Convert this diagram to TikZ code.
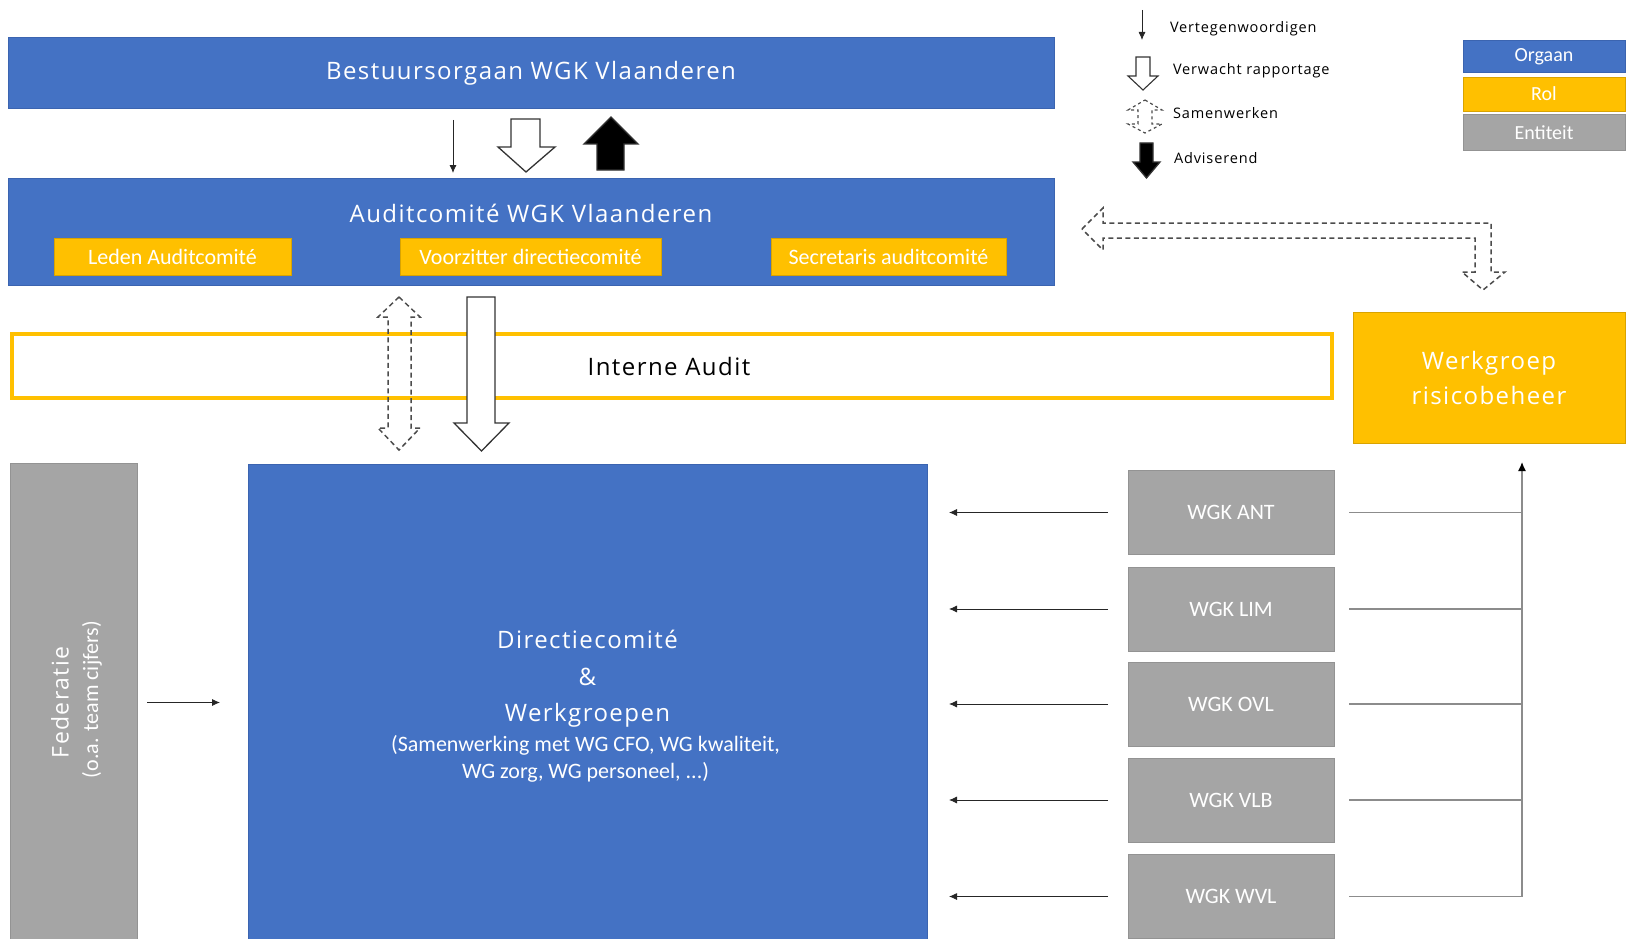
\documentclass[tikz,border=0pt]{standalone}
\usepackage{fontspec}
\setmainfont{Carlito}
\newfontfamily\kopfont[LetterSpace=6]{Open Sans}
\newfontfamily\legfont[LetterSpace=6]{Open Sans}
\usetikzlibrary{arrows.meta,calc}
\definecolor{orgaan}{HTML}{4472C4}
\definecolor{orgaanrand}{HTML}{3B64B0}
\definecolor{rol}{HTML}{FFC000}
\definecolor{entiteit}{HTML}{A5A5A5}
\definecolor{entrand}{HTML}{939393}

\begin{document}
\begin{tikzpicture}
  [x=1pt,y=-1pt,
   every node/.style={inner sep=0pt,outer sep=0pt,text=white},
   orgaanbox/.style={rectangle,fill=orgaan,draw=orgaanrand,line width=1pt},
   rolbox/.style={rectangle,fill=rol,draw=rol!85!black,line width=.6pt},
   entbox/.style={rectangle,fill=entiteit,draw=entrand,line width=1pt},
   kop/.style={font=\kopfont\fontsize{24}{28}\selectfont},
   klein/.style={font=\fontsize{22}{26}\selectfont},
   legtekst/.style={font=\legfont\fontsize{14.5}{17}\selectfont,text=black,anchor=west},
   vertegenw/.style={-{Latex[length=8pt,width=7pt]},line width=.8pt,draw=black!85},
   lijn/.style={draw=black!45,line width=1.3pt},
   blok/.style={draw=black!80,line width=1.3pt,line join=miter},
   samen/.style={draw=black!70,line width=1.5pt,dash pattern=on 5pt off 3.5pt}]
  \useasboundingbox (0,0) rectangle (1627,939);

  % organen
  \node[orgaanbox,minimum width=1046pt,minimum height=71pt,kop] (bestuur) at (531,73.5) {Bestuursorgaan WGK Vlaanderen};
  \node[orgaanbox,minimum width=1046pt,minimum height=107pt] (audit) at (531,231.5) {};
  \node[kop] (audittitel) at ([yshift=18.5pt]audit.center) {Auditcomité WGK Vlaanderen};
  \node[rolbox,minimum width=237pt,minimum height=37pt,klein] (leden) at (172.5,256.5) {Leden Auditcomité};
  \node[rolbox,minimum width=261pt,minimum height=37pt,klein] (voorzitter) at (530.5,256.5) {Voorzitter directiecomité};
  \node[rolbox,minimum width=235pt,minimum height=37pt,klein] (secretaris) at (888.5,256.5) {Secretaris auditcomité};

  \node[rectangle,draw=rol,line width=4pt,fill=white,minimum width=1320pt,minimum height=64pt] (intern) at (672,366) {};
  \node[kop,text=black] (interntekst) at (669,366) {Interne Audit};
  \node[rolbox,minimum width=272pt,minimum height=131pt,kop,align=center] (risico) at (1489,377.5)
    {Werkgroep\\[7pt]risicobeheer};

  \node[entbox,minimum width=127pt,minimum height=479pt] (fed) at (73.5,702.5) {};
  \node[kop,rotate=90,font=\kopfont\fontsize{23}{26}\selectfont] (fedtitel) at ([xshift=-13.5pt]fed.center) {Federatie};
  \node[klein,rotate=90,font=\fontsize{22}{26}\selectfont] (fedsub) at ([xshift=18.5pt,yshift=3pt]fed.center) {(o.a. team cijfers)};

  \node[orgaanbox,minimum width=679pt,minimum height=478pt] (dir) at (587.5,703) {};
  \node[kop,align=center,font=\kopfont\fontsize{24}{36.5}\selectfont] (dirtitel) at ([yshift=24pt]dir.center)
    {Directiecomité\\\&\\Werkgroepen};
  \node[klein,align=center,font=\fontsize{22}{27}\selectfont] (dirsub) at ([xshift=-2pt,yshift=-56pt]dir.center)
    {(Samenwerking met WG CFO, WG kwaliteit,\\WG zorg, WG personeel, ...)};

  \foreach \naam/\tekst/\y in {ant/WGK ANT/512.5,lim/WGK LIM/609,ovl/WGK OVL/704,vlb/WGK VLB/800,wvl/WGK WVL/896.5}
    \node[entbox,minimum width=206pt,minimum height=84pt,klein] (\naam) at (1231,\y) {\tekst};

  % verbindingen
  \draw[vertegenw,shorten <=11pt,shorten >=5pt] (bestuur.south -| 453,0) -- (audit.north -| 453,0);
  \draw[blok,fill=white] (511,119) -- (540,119) -- (540,147) -- (555,147) -- (526,172) -- (498,147) -- (511,147) -- cycle;
  \draw[blok,fill=black] (611,117) -- (638,144) -- (624,144) -- (624,170) -- (597,170) -- (597,144) -- (584,144) -- cycle;

  \draw[samen] (399,297) -- (420,317) -- (411,317) -- (411,428) -- (420,428) -- (399,450)
    -- (378,428) -- (388,428) -- (388,317) -- (378,317) -- cycle;
  \draw[blok,fill=white] (467,297) -- (495,297) -- (495,423) -- (509,423) -- (481.5,451)
    -- (454,423) -- (467,423) -- cycle;

  \draw[samen] (1082,229) -- (1103,208) -- (1103,223) -- (1491,223) -- (1491,272) -- (1505,272)
    -- (1483,290) -- (1462,272) -- (1475,272) -- (1475,238) -- (1103,238) -- (1103,250) -- cycle;

  \draw[vertegenw,shorten <=10pt,shorten >=28pt] (fed.east) -- (fed.east -| dir.west);
  \foreach \naam in {ant,lim,ovl,vlb,wvl}
    \draw[vertegenw,shorten <=20pt,shorten >=22pt] (\naam.west) -- (\naam.west -| dir.east);

  \coordinate (bus) at (1522,462);
  \foreach \naam in {ant,lim,ovl,vlb}
    \draw[lijn,shorten <=15pt] (\naam.east) -- (\naam.east -| bus);
  \draw[lijn,shorten <=15pt,-{Latex[length=9pt,width=8pt,fill=black,color=black]}] (wvl.east) -| (bus);

  % legende
  \draw[vertegenw] (1142,10) -- (1142,40);
  \draw[blok,line width=1.1pt,fill=white] (1136,57) -- (1150,57) -- (1150,76) -- (1158,76) -- (1143,90)
    -- (1128,76) -- (1136,76) -- cycle;
  \draw[samen,line width=1.2pt,dash pattern=on 3pt off 3pt] (1145,100) -- (1162,110) -- (1152,110) -- (1152,124)
    -- (1162,124) -- (1145,133) -- (1128,124) -- (1138,124) -- (1138,110) -- (1128,110) -- cycle;
  \draw[blok,fill=black] (1140,143) -- (1153,143) -- (1153,162) -- (1160,162) -- (1146.5,178)
    -- (1133,162) -- (1140,162) -- cycle;
  \node[legtekst] (lvert) at (1170,29) {Vertegenwoordigen};
  \node[legtekst] (lrapp) at (1173,71) {Verwacht rapportage};
  \node[legtekst] (lsamen) at (1173,113) {Samenwerken};
  \node[legtekst] (ladvies) at (1174,158) {Adviserend};

  \node[orgaanbox,minimum width=162pt,minimum height=32pt,klein,font=\fontsize{20}{22}\selectfont] (lorgaan) at (1544,57) {Orgaan};
  \node[rolbox,minimum width=162pt,minimum height=34pt,klein,font=\fontsize{20}{22}\selectfont] (lrol) at (1544,94) {Rol};
  \node[entbox,minimum width=162pt,minimum height=35pt,klein,font=\fontsize{20}{22}\selectfont] (lent) at (1544,132.5) {Entiteit};
\end{tikzpicture}
\end{document}
